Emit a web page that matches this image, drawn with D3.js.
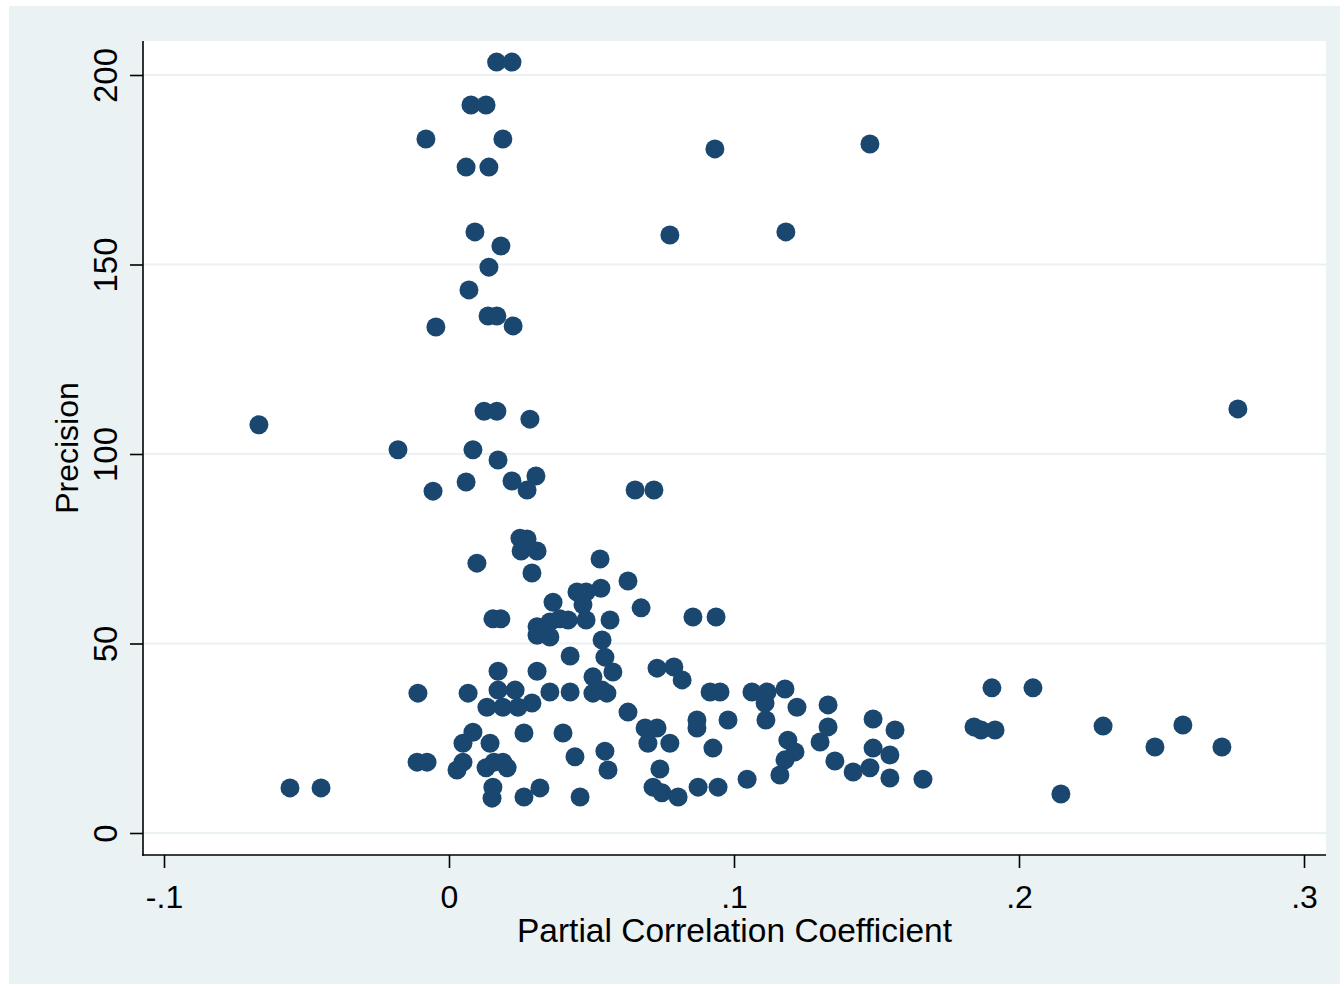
<!DOCTYPE html>
<html>
<head>
<meta charset="utf-8">
<script src="https://cdn.jsdelivr.net/npm/d3@7"></script>
<style>
  html, body { margin: 0; padding: 0; background: #ffffff; }
  svg { display: block; }
  text { font-family: "Liberation Sans", Arial, sans-serif; fill: #000; }
</style>
</head>
<body>
<svg id="chart" width="1344" height="986"></svg>
<script>
// Partial correlation coefficient (x) and precision (y) of each estimate
const pcc = [
  0.0167, 0.0221, 0.0077, 0.0130, -0.0081, 0.0189, 0.0060, 0.0140, 0.0091,
  0.0182, 0.0140, 0.0070, 0.0137, 0.0168, 0.0225, -0.0046, 0.0933, 0.1477, 0.0775,
  0.1182, 0.2768, -0.0667, 0.0123, 0.0168, 0.0284, -0.0179, 0.0084, 0.0172, -0.0056,
  0.0060, 0.0221, 0.0305, 0.0274, 0.0653, 0.0719, 0.0249, 0.0274, 0.0253, 0.0309,
  0.0098, 0.0291, 0.0530, 0.0628, 0.0533, 0.0674, 0.0365, 0.0449, 0.0481, 0.0470,
  0.0481, 0.0154, 0.0182, 0.0309, 0.0354, 0.0309, 0.0354, 0.0389, 0.0418, 0.0565,
  0.0856, 0.0937, 0.0537, 0.0425, 0.0547, 0.0575, 0.0172, 0.0309, -0.0109, 0.0067,
  0.0172, 0.0232, 0.0133, 0.0189, 0.0242, 0.0291, 0.0354, 0.0425, 0.0505, 0.0537,
  0.0505, 0.0554, 0.0628, 0.0730, 0.0789, 0.0818, 0.0084, 0.0049, 0.0144, 0.0263,
  0.0400, 0.0688, 0.0730, 0.0698, 0.0775, -0.0112, -0.0077, 0.0049, 0.0028, 0.0130,
  0.0158, 0.0189, 0.0204, 0.0442, 0.0547, 0.0558, 0.0154, 0.0151, 0.0263, 0.0319,
  0.0460, 0.0740, 0.0716, 0.0747, 0.0804, -0.0558, -0.0449, 0.0916, 0.0951, 0.1063,
  0.1116, 0.1179, 0.1109, 0.1221, 0.1330, 0.0870, 0.0870, 0.0979, 0.0926, 0.1112,
  0.1189, 0.1214, 0.1179, 0.1302, 0.1330, 0.1488, 0.1565, 0.1488, 0.1547, 0.1354,
  0.1418, 0.1477, 0.1547, 0.0874, 0.0944, 0.1046, 0.1161, 0.1663, 0.1905, 0.2049,
  0.1842, 0.1867, 0.1916, 0.2295, 0.2147, 0.2477, 0.2575, 0.2712
];
const precision = [
  203.4, 203.4, 192.1, 192.1, 183.1, 183.1, 175.7, 175.7, 158.6,
  154.9, 149.3, 143.3, 136.4, 136.4, 133.8, 133.5, 180.5, 181.8, 157.8,
  158.6, 111.9, 107.7, 111.3, 111.3, 109.2, 101.1, 101.1, 98.4, 90.2,
  92.6, 92.9, 94.2, 90.5, 90.5, 90.5, 77.8, 77.6, 74.4, 74.4,
  71.2, 68.6, 72.3, 66.5, 64.6, 59.4, 60.9, 63.6, 63.6, 60.2,
  56.2, 56.5, 56.5, 54.4, 55.7, 52.2, 51.7, 56.5, 56.2, 56.2,
  57.0, 57.0, 50.9, 46.7, 46.4, 42.5, 42.7, 42.7, 36.9, 36.9,
  37.7, 37.7, 33.2, 33.2, 33.2, 34.3, 37.2, 37.2, 41.2, 37.7,
  36.9, 36.9, 31.9, 43.5, 43.8, 40.4, 26.6, 23.7, 23.7, 26.4,
  26.4, 27.7, 27.7, 23.7, 23.7, 18.7, 18.7, 18.7, 16.6, 17.2,
  18.7, 18.7, 17.2, 20.1, 21.6, 16.6, 12.1, 9.2, 9.5, 11.9,
  9.5, 16.9, 12.1, 10.6, 9.5, 11.9, 11.9, 37.2, 37.2, 37.2,
  37.2, 38.0, 34.3, 33.2, 33.8, 29.8, 27.7, 29.8, 22.4, 29.8,
  24.5, 21.4, 19.3, 24.0, 28.0, 30.1, 27.2, 22.4, 20.6, 19.0,
  16.1, 17.2, 14.5, 12.1, 12.1, 14.2, 15.3, 14.2, 38.3, 38.3,
  28.0, 27.2, 27.2, 28.2, 10.3, 22.7, 28.5, 22.7
];
const xTicks = [-0.1, 0, 0.1, 0.2, 0.3];
const xTickLabels = ["-.1", "0", ".1", ".2", ".3"];
const yTicks = [0, 50, 100, 150, 200];
const yTickLabels = ["0", "50", "100", "150", "200"];
const xTitle = "Partial Correlation Coefficient";
const yTitle = "Precision";

const svg = d3.select("#chart");
const bg = "#eaf2f3";
const navy = "#1a476f";

// plot region frame
const plot = { left: 143, right: 1326, top: 41, bottom: 855 };

svg.append("rect").attr("x", 9).attr("y", 6).attr("width", 1331).attr("height", 978).attr("fill", bg);
svg.append("rect").attr("x", plot.left).attr("y", plot.top)
  .attr("width", plot.right - plot.left).attr("height", plot.bottom - plot.top).attr("fill", "#ffffff");

const x = d3.scaleLinear().domain([-0.1, 0.3]).range([164, 1304]);
const y = d3.scaleLinear().domain([0, 200]).range([833, 75]);

// gridlines
svg.append("g").selectAll("line").data(yTicks).join("line")
  .attr("x1", plot.left).attr("x2", plot.right)
  .attr("y1", d => y(d)).attr("y2", d => y(d))
  .attr("stroke", bg).attr("stroke-width", 2.2);

// points
svg.append("g").selectAll("circle").data(pcc.map((v, i) => [v, precision[i]])).join("circle")
  .attr("cx", d => x(d[0])).attr("cy", d => y(d[1])).attr("r", 9.5)
  .attr("fill", navy);

// y axis
const yAxis = d3.axisLeft(y).tickValues(yTicks)
  .tickFormat((d, i) => yTickLabels[i]).tickSize(13).tickSizeOuter(0);
const gy = svg.append("g").attr("transform", `translate(${plot.left},0)`).call(yAxis);
gy.select(".domain").remove();
gy.selectAll(".tick line").attr("stroke", "#000").attr("stroke-width", 1.6);
gy.selectAll(".tick text")
  .attr("x", null).attr("dy", null)
  .attr("transform", "translate(-26,0) rotate(-90)")
  .attr("text-anchor", "middle")
  .style("font-size", "33px").style("font-family", "'Liberation Sans', Arial, sans-serif").attr("fill", "#000");

// x axis
const xAxis = d3.axisBottom(x).tickValues(xTicks)
  .tickFormat((d, i) => xTickLabels[i]).tickSize(13).tickSizeOuter(0);
const gx = svg.append("g").attr("transform", `translate(0,${plot.bottom})`).call(xAxis);
gx.select(".domain").remove();
gx.selectAll(".tick line").attr("stroke", "#000").attr("stroke-width", 1.6);
gx.selectAll(".tick text")
  .attr("y", 53).attr("dy", null)
  .attr("text-anchor", "middle")
  .style("font-size", "32px").style("font-family", "'Liberation Sans', Arial, sans-serif").attr("fill", "#000");

// axis lines
svg.append("line").attr("x1", plot.left).attr("x2", plot.left).attr("y1", plot.top).attr("y2", plot.bottom + 0.8)
  .attr("stroke", "#000").attr("stroke-width", 1.6);
svg.append("line").attr("x1", plot.left - 0.8).attr("x2", plot.right).attr("y1", plot.bottom).attr("y2", plot.bottom)
  .attr("stroke", "#000").attr("stroke-width", 1.6);

// titles
svg.append("text").attr("x", (plot.left + plot.right) / 2).attr("y", 942)
  .attr("text-anchor", "middle").style("font-size", "33.5px").text(xTitle);
svg.append("text").attr("transform", `translate(78,${(plot.top + plot.bottom) / 2}) rotate(-90)`)
  .attr("text-anchor", "middle").style("font-size", "32px").text(yTitle);
</script>
</body>
</html>
